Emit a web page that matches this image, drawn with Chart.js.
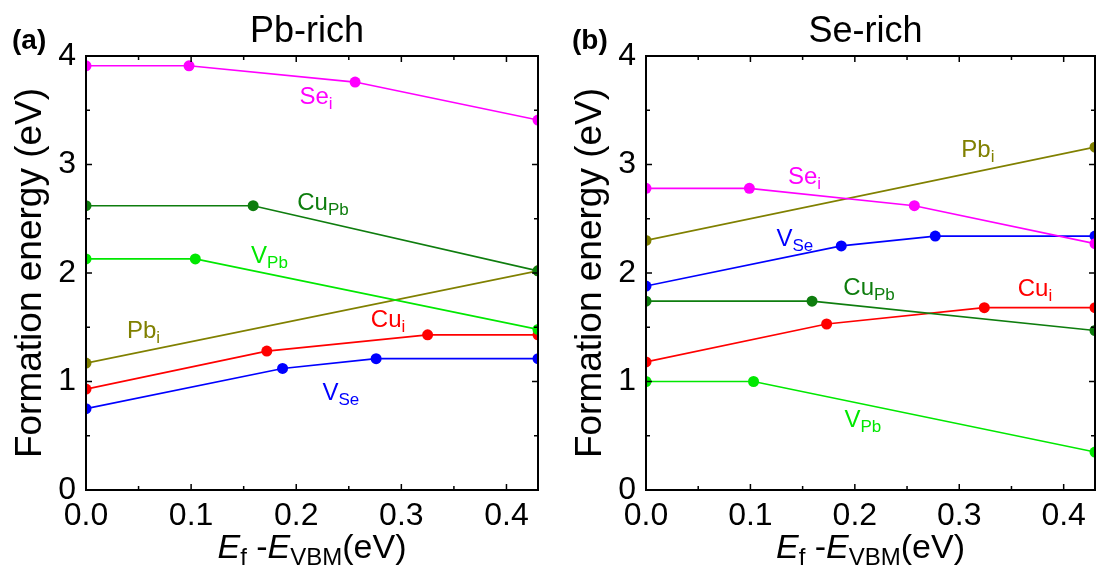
<!DOCTYPE html>
<html>
<head>
<meta charset="utf-8">
<script src="https://cdn.jsdelivr.net/npm/chart.js@4.4.1/dist/chart.umd.min.js"></script>
<style>
  html, body { margin: 0; padding: 0; background: #fff; }
  #wrap { position: relative; width: 1101px; height: 576px; }
  .panel { position: absolute; top: 0; height: 576px; }
  #pa { left: 0; width: 560px; }
  #pb { left: 560px; width: 541px; }
</style>
</head>
<body>
<div id="wrap">
  <div class="panel" id="pa"><canvas id="chartA"></canvas></div>
  <div class="panel" id="pb"><canvas id="chartB"></canvas></div>
</div>
<script>
// ---- data (x = Ef - EVBM in eV, y = formation energy in eV) ----
const xTicks = [0, 0.1, 0.2, 0.3, 0.4];
const xMinor = [0.05, 0.15, 0.25, 0.35];
const yTicks = [0, 1, 2, 3, 4];
const yMinor = [0.5, 1.5, 2.5, 3.5];

// (a) Pb-rich
const pbSeiX  = [0, 0.098, 0.256, 0.43];
const pbSeiY  = [3.91, 3.91, 3.76, 3.41];
const pbCuPbX = [0, 0.159, 0.43];
const pbCuPbY = [2.62, 2.62, 2.02];
const pbVPbX  = [0, 0.104, 0.43];
const pbVPbY  = [2.13, 2.13, 1.48];
const pbPbiX  = [0, 0.43];
const pbPbiY  = [1.17, 2.02];
const pbCuiX  = [0, 0.172, 0.325, 0.43];
const pbCuiY  = [0.93, 1.28, 1.43, 1.43];
const pbVSeX  = [0, 0.187, 0.276, 0.43];
const pbVSeY  = [0.75, 1.12, 1.21, 1.21];

// (b) Se-rich
const seSeiX  = [0, 0.099, 0.257, 0.43];
const seSeiY  = [2.78, 2.78, 2.62, 2.27];
const seCuPbX = [0, 0.159, 0.43];
const seCuPbY = [1.74, 1.74, 1.47];
const seVPbX  = [0, 0.103, 0.43];
const seVPbY  = [1.00, 1.00, 0.35];
const sePbiX  = [0, 0.43];
const sePbiY  = [2.30, 3.16];
const seCuiX  = [0, 0.173, 0.324, 0.43];
const seCuiY  = [1.18, 1.53, 1.68, 1.68];
const seVSeX  = [0, 0.187, 0.277, 0.43];
const seVSeY  = [1.88, 2.25, 2.34, 2.34];

const colors = {
  Sei: '#ff00ff', CuPb: '#0e7d0e', VPb: '#00e800',
  Pbi: '#808000', Cui: '#ff0000', VSe: '#0000ff'
};

// defect labels: [main, subscript, colour key]
const labelNames = [['Se', 'i', 'Sei'], ['Cu', 'Pb', 'CuPb'], ['V', 'Pb', 'VPb'],
                    ['Pb', 'i', 'Pbi'], ['Cu', 'i', 'Cui'], ['V', 'Se', 'VSe']];
const pbLabelPos = [[0.203, 3.556], [0.201, 2.580], [0.157, 2.089], [0.039, 1.402], [0.271, 1.506], [0.225, 0.831]];
const seLabelPos = [[0.136, 2.823], [0.189, 1.793], [0.190, 0.578], [0.302, 3.068], [0.356, 1.792], [0.125, 2.253]];

const FONT = '"Liberation Sans", Arial, sans-serif';

function series(x, y, key) {
  return {
    data: x.map((v, i) => ({ x: v, y: y[i] })),
    showLine: true,
    borderColor: colors[key],
    backgroundColor: colors[key],
    borderWidth: 1.7,
    pointRadius: 5.5,
    pointHoverRadius: 5.5,
    pointBorderWidth: 0
  };
}

// draw a run of text pieces: [text, kind] where kind is n (normal), i (italic), s (subscript)
function drawRich(ctx, parts, x, y, size, subSize, subDrop, align) {
  const fontOf = k => (k === 'i' ? 'italic ' : '') + (k === 's' ? subSize : size) + 'px ' + FONT;
  let total = 0;
  parts.forEach(p => { ctx.font = fontOf(p[1]); total += ctx.measureText(p[0]).width; });
  let cx = align === 'center' ? x - total / 2 : x;
  ctx.textAlign = 'left';
  ctx.textBaseline = 'alphabetic';
  parts.forEach(p => {
    ctx.font = fontOf(p[1]);
    ctx.fillText(p[0], cx, p[1] === 's' ? y + subDrop : y);
    cx += ctx.measureText(p[0]).width;
  });
}

const framePlugin = {
  id: 'frame',
  afterDatasetsDraw(chart) {
    const { ctx, chartArea: a, scales: { x, y } } = chart;
    ctx.save();
    ctx.strokeStyle = '#000';
    ctx.lineWidth = 2;
    ctx.strokeRect(a.left, a.top, a.right - a.left, a.bottom - a.top);
    ctx.beginPath();
    ctx.lineWidth = 1.5;
    const tx = (v, len) => {
      const px = x.getPixelForValue(v);
      ctx.moveTo(px, a.bottom); ctx.lineTo(px, a.bottom - len);
      ctx.moveTo(px, a.top); ctx.lineTo(px, a.top + len);
    };
    const ty = (v, len) => {
      const py = y.getPixelForValue(v);
      ctx.moveTo(a.left, py); ctx.lineTo(a.left + len, py);
      ctx.moveTo(a.right, py); ctx.lineTo(a.right - len, py);
    };
    xTicks.forEach(v => tx(v, 6));
    xMinor.forEach(v => tx(v, 4));
    yTicks.forEach(v => ty(v, 6));
    yMinor.forEach(v => ty(v, 4));
    ctx.stroke();
    ctx.restore();
  }
};

const textPlugin = {
  id: 'texts',
  afterDraw(chart, args, opts) {
    const { ctx, chartArea: a, scales: { x, y } } = chart;
    const mid = (a.left + a.right) / 2;
    ctx.save();
    ctx.fillStyle = '#000';
    ctx.font = '36px ' + FONT;
    ctx.textAlign = 'center';
    ctx.textBaseline = 'alphabetic';
    ctx.fillText(opts.title, mid - 5, 42);
    ctx.font = 'bold 28px ' + FONT;
    ctx.textAlign = 'left';
    ctx.fillText(opts.tag, 12, 49);
    drawRich(ctx, [['E', 'i'], ['f', 's'], [' -', 'n'], ['E', 'i'], ['VBM', 's'], ['(eV)', 'n']],
             mid, 558, 34, 24, 7, 'center');
    opts.pos.forEach((p, i) => {
      const l = labelNames[i];
      ctx.fillStyle = colors[l[2]];
      drawRich(ctx, [[l[0], 'n'], [l[1], 's']], x.getPixelForValue(p[0]), y.getPixelForValue(p[1]),
               24, 17, 5, 'left');
    });
    ctx.restore();
  }
};

function makeChart(id, title, tag, datasets, labelPos, padRight) {
  return new Chart(document.getElementById(id), {
    type: 'scatter',
    data: { datasets: datasets },
    options: {
      responsive: true,
      maintainAspectRatio: false,
      animation: false,
      events: [],
      layout: { padding: { top: 56, right: padRight, bottom: 0, left: 0 } },
      plugins: {
        legend: { display: false },
        tooltip: { enabled: false },
        texts: { title: title, tag: tag, pos: labelPos }
      },
      scales: {
        x: {
          type: 'linear', min: 0, max: 0.43,
          grid: { display: false, drawTicks: false },
          border: { display: false },
          afterBuildTicks: sc => { sc.ticks = xTicks.map(v => ({ value: v })); },
          afterFit: sc => { sc.height = 86; },
          ticks: {
            font: { family: FONT, size: 32 }, color: '#000', padding: 7,
            maxRotation: 0, autoSkip: false,
            callback: v => Number(v).toFixed(1)
          }
        },
        y: {
          type: 'linear', min: 0, max: 4,
          grid: { display: false, drawTicks: false },
          border: { display: false },
          afterBuildTicks: sc => { sc.ticks = yTicks.map(v => ({ value: v })); },
          afterFit: sc => { sc.width = 86; },
          ticks: {
            font: { family: FONT, size: 32 }, color: '#000', padding: 10,
            callback: v => String(v)
          },
          title: {
            display: true, text: 'Formation energy (eV)', color: '#000',
            font: { family: FONT, size: 37 }, padding: { top: 9, bottom: 0 }
          }
        }
      }
    },
    plugins: [framePlugin, textPlugin]
  });
}

makeChart('chartA', 'Pb-rich', '(a)', [
  series(pbSeiX, pbSeiY, 'Sei'),
  series(pbCuPbX, pbCuPbY, 'CuPb'),
  series(pbVPbX, pbVPbY, 'VPb'),
  series(pbPbiX, pbPbiY, 'Pbi'),
  series(pbCuiX, pbCuiY, 'Cui'),
  series(pbVSeX, pbVSeY, 'VSe')
], pbLabelPos, 22);

makeChart('chartB', 'Se-rich', '(b)', [
  series(seSeiX, seSeiY, 'Sei'),
  series(seCuPbX, seCuPbY, 'CuPb'),
  series(seVPbX, seVPbY, 'VPb'),
  series(sePbiX, sePbiY, 'Pbi'),
  series(seCuiX, seCuiY, 'Cui'),
  series(seVSeX, seVSeY, 'VSe')
], seLabelPos, 6);
</script>
</body>
</html>
